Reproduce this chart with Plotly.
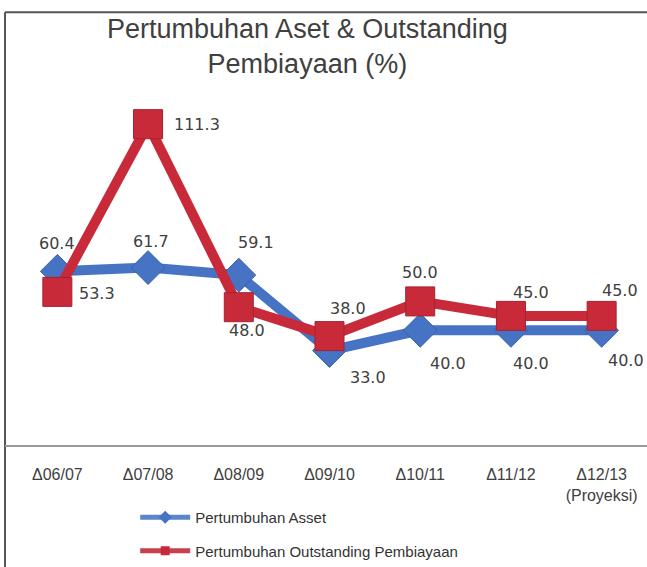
import plotly.graph_objects as go

categories = ["Δ06/07", "Δ07/08", "Δ08/09", "Δ09/10", "Δ10/11", "Δ11/12", "Δ12/13<br>(Proyeksi)"]
aset = [60.4, 61.7, 59.1, 33.0, 40.0, 40.0, 40.0]
pembiayaan = [53.3, 111.3, 48.0, 38.0, 50.0, 45.0, 45.0]

series_names = ["Pertumbuhan Asset", "Pertumbuhan Outstanding Pembiayaan"]

BLUE = "#4673c4"
RED = "#c92a3a"
TXT = "#404040"
FONT = "Liberation Sans"
LBL_FONT = "DejaVu Sans"

# label offsets (pixels) for each point
aset_off = [(0, 28), (3, 26), (17, 33), (38, -27), (28, -33), (20, -33), (24, -30)]
pemb_off = [(40, -2), (49, 0), (8, -23), (18, 28), (0, 29), (20, 23), (18, 25)]

fig = go.Figure()
fig.add_trace(go.Scatter(
    x=categories, y=aset, name=series_names[0], mode="lines+markers", showlegend=False,
    line=dict(color=BLUE, width=10),
    marker=dict(symbol="diamond", size=26, color=BLUE, line=dict(color="#3a62a8", width=1)),
))
fig.add_trace(go.Scatter(
    x=categories, y=pembiayaan, name=series_names[1], mode="lines+markers", showlegend=False,
    line=dict(color=RED, width=10),
    marker=dict(symbol="square", size=29, color=RED, line=dict(color="#a82030", width=1)),
))
# legend entries with the smaller legend glyphs
fig.add_trace(go.Scatter(
    x=[None], y=[None], name=series_names[0], mode="lines+markers", legendgroup="a",
    line=dict(color="#5a86cc", width=5),
    marker=dict(symbol="diamond", size=10, color=BLUE),
))
fig.add_trace(go.Scatter(
    x=[None], y=[None], name=series_names[1], mode="lines+markers", legendgroup="b",
    line=dict(color="#c8404c", width=5),
    marker=dict(symbol="square", size=9, color=RED),
))

annotations = []
for xs, ys, offs in ((categories, aset, aset_off), (categories, pembiayaan, pemb_off)):
    for c, v, (dx, dy) in zip(xs, ys, offs):
        annotations.append(dict(
            x=c, y=v, xref="x", yref="y", text=f"{v:.1f}", showarrow=False,
            xshift=dx, yshift=dy, font=dict(family=LBL_FONT, size=16, color=TXT),
        ))

annotations.append(dict(
    x=0.466, y=1.0, xref="paper", yref="paper", yanchor="bottom", showarrow=False,
    text="Pertumbuhan Aset & Outstanding<br>Pembiayaan (%)", yshift=18,
    font=dict(family=FONT, size=27, color=TXT), align="center",
))

fig.update_layout(
    width=647, height=567,
    margin=dict(l=12, r=0, t=99, b=120),
    paper_bgcolor="white", plot_bgcolor="white",
    showlegend=True,
    legend=dict(
        x=0.194, y=-0.16, xanchor="left", yanchor="top", orientation="v",
        font=dict(family=FONT, size=15, color="#333333"),
        itemwidth=50, tracegroupgap=11, bgcolor="rgba(0,0,0,0)",
    ),
    annotations=annotations,
    shapes=[
        dict(type="line", xref="paper", yref="paper", x0=-0.011, x1=1.02, y0=1.25, y1=1.25,
             line=dict(color="#555555", width=2)),
        dict(type="line", xref="paper", yref="paper", x0=-0.011, x1=-0.011, y0=1.25, y1=-0.36,
             line=dict(color="#555555", width=2)),
        dict(type="line", xref="paper", yref="paper", x0=-0.011, x1=1.0, y0=0, y1=0,
             line=dict(color="#999999", width=2)),
    ],
)
fig.update_xaxes(
    type="category", range=[-0.5, 6.5], showgrid=False, zeroline=False, showline=False,
    ticks="outside", ticklen=14, tickcolor="rgba(0,0,0,0)",
    tickfont=dict(family=FONT, size=16, color=TXT),
)
fig.update_yaxes(range=[0, 120], visible=False, showgrid=False, zeroline=False)

fig.write_html("out.html", config={"displayModeBar": False},
               post_script="document.body.style.margin='0';")
